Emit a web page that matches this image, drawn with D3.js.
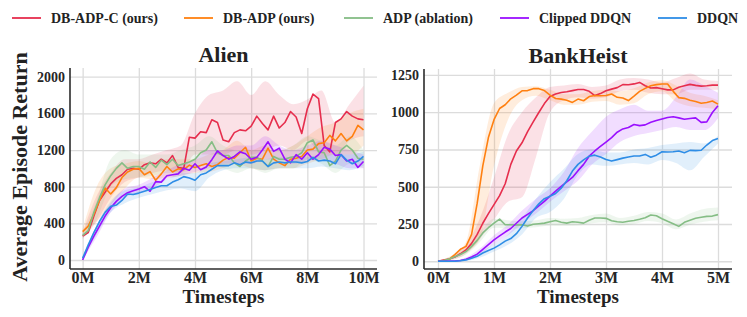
<!DOCTYPE html>
<html>
<head>
<meta charset="utf-8">
<title>Alien / BankHeist returns</title>
<script src="https://cdn.jsdelivr.net/npm/d3@7"></script>
<style>
  body { margin: 0; background: #fff; }
  svg text { font-family: "Liberation Serif", "Times New Roman", serif; font-weight: bold; fill: #222; }
</style>
</head>
<body>
<script>

// legend / series
var labels = ["DB-ADP-C (ours)", "DB-ADP (ours)", "ADP (ablation)", "Clipped DDQN", "DDQN"];
var colors = ["#e62e4d", "#ff8010", "#85bd85", "#9a10ff", "#2e8de6"];
var serif = '"Liberation Serif", "Times New Roman", serif';

// ---- Alien: mean curves, one value every 0.2M steps (0 .. 10M)
var alienStep = 0.2;
var alienRed    = [260, 300, 480, 650, 740, 830, 890, 930, 990, 1000, 990, 1040, 1060, 1050, 1100, 1060, 1140, 1010, 1000, 1340, 1330, 1400, 1390, 1530, 1500, 1310, 1290, 1390, 1420, 1410, 1460, 1570, 1490, 1420, 1570, 1440, 1500, 1620, 1560, 1380, 1650, 1810, 1760, 1250, 1180, 1500, 1540, 1620, 1570, 1540, 1530];
var alienOrange = [310, 370, 500, 650, 785, 720, 790, 900, 960, 990, 1000, 930, 965, 870, 940, 1020, 960, 995, 985, 1035, 1010, 1030, 1050, 1020, 1040, 1090, 1120, 1110, 1170, 1230, 1080, 1110, 1100, 1220, 1100, 1060, 1030, 1100, 1110, 1130, 1200, 1210, 1270, 1280, 1360, 1300, 1380, 1300, 1350, 1470, 1420];
var alienGreen  = [270, 320, 520, 680, 820, 920, 1000, 1060, 1000, 1020, 1020, 990, 1070, 1010, 1090, 1040, 1100, 1030, 1050, 1070, 1100, 1170, 1200, 1290, 1170, 1140, 1140, 1060, 1020, 1080, 1120, 1120, 1080, 1020, 1130, 1100, 1100, 1120, 1130, 1170, 1280, 1310, 1180, 1170, 1030, 1080, 1200, 1250, 1200, 1110, 1100];
var alienPurple = [0, 140, 260, 370, 480, 570, 640, 695, 735, 755, 775, 800, 750, 855, 850, 920, 930, 940, 1000, 980, 1050, 985, 1015, 1095, 1190, 1140, 1100, 1130, 1180, 1160, 1100, 1120, 1200, 1290, 1185, 1220, 1100, 1060, 1150, 1100, 1170, 1100, 1150, 1230, 1210, 1140, 1150, 1080, 1100, 1010, 1075];
var alienBlue   = [20, 165, 300, 420, 520, 585, 600, 650, 720, 715, 730, 750, 770, 790, 810, 810, 850, 875, 910, 895, 870, 930, 950, 990, 1030, 1030, 1030, 1060, 1040, 1070, 1060, 1080, 1080, 1020, 1060, 1070, 1060, 1070, 1070, 1060, 1075, 1120, 1080, 1090, 1080, 1050, 1150, 1090, 1050, 1080, 1130];

// Alien: shaded bands, one value every 0.5M
var alienBandStep = 0.5;
var alienRedLo    = [230, 420, 680, 850, 900, 950, 980, 950, 1150, 1150, 1150, 1200, 1150, 1200, 1250, 1200, 1300, 1150, 1150, 1300, 1350];
var alienRedHi    = [300, 700, 950, 1100, 1100, 1150, 1200, 1250, 1600, 1800, 1850, 1950, 1800, 1950, 1800, 1700, 1750, 1850, 1500, 1700, 1900];
var alienOrangeLo = [280, 420, 600, 780, 900, 880, 900, 920, 950, 960, 1000, 1050, 1000, 980, 1000, 1000, 1050, 1100, 1150, 1150, 1250];
var alienOrangeHi = [340, 800, 1000, 1050, 1080, 1050, 1100, 1100, 1100, 1150, 1200, 1300, 1200, 1250, 1200, 1250, 1350, 1450, 1500, 1600, 1650];
var alienGreenLo  = [250, 450, 800, 880, 900, 920, 950, 950, 1000, 1050, 1000, 950, 1000, 950, 1000, 1000, 1100, 1050, 950, 1050, 1000];
var alienGreenHi  = [300, 650, 1100, 1200, 1150, 1150, 1150, 1200, 1250, 1350, 1250, 1200, 1200, 1200, 1200, 1250, 1350, 1300, 1250, 1350, 1200];
var alienPurpleLo = [0, 250, 520, 680, 730, 780, 880, 920, 960, 1000, 1050, 1050, 1050, 1100, 1100, 1050, 1080, 1100, 1050, 1000, 1000];
var alienPurpleHi = [20, 380, 620, 780, 820, 900, 980, 1050, 1100, 1200, 1200, 1250, 1250, 1350, 1250, 1200, 1250, 1300, 1250, 1200, 1150];
var alienBlueLo   = [0, 280, 520, 620, 680, 720, 760, 780, 750, 900, 980, 1000, 1000, 980, 1000, 1000, 1000, 1020, 1000, 980, 1030];
var alienBlueHi   = [40, 380, 640, 760, 790, 850, 880, 950, 950, 1050, 1080, 1100, 1120, 1100, 1120, 1120, 1120, 1150, 1150, 1150, 1180];

// ---- BankHeist: mean curves, one value every 0.1M steps (0 .. 5M)
var bankStep = 0.1;
var bankRed    = [0, 8, 15, 28, 50, 76, 120, 180, 255, 320, 380, 440, 520, 650, 740, 795, 870, 935, 998, 1058, 1105, 1122, 1132, 1137, 1145, 1152, 1152, 1140, 1112, 1125, 1144, 1155, 1165, 1185, 1184, 1190, 1200, 1178, 1162, 1165, 1158, 1150, 1150, 1167, 1178, 1187, 1180, 1175, 1178, 1182, 1182];
var bankOrange = [0, 5, 13, 45, 80, 100, 180, 390, 640, 830, 950, 1025, 1050, 1090, 1115, 1144, 1145, 1158, 1158, 1145, 1115, 1092, 1088, 1080, 1066, 1088, 1077, 1105, 1112, 1110, 1112, 1122, 1100, 1095, 1078, 1108, 1140, 1160, 1178, 1185, 1189, 1189, 1140, 1098, 1093, 1080, 1072, 1060, 1065, 1075, 1054];
var bankGreen  = [0, 5, 15, 30, 45, 65, 100, 140, 190, 225, 256, 283, 245, 245, 243, 245, 236, 248, 252, 256, 265, 274, 262, 256, 265, 262, 256, 275, 290, 290, 288, 272, 265, 262, 268, 274, 282, 292, 310, 305, 285, 268, 252, 234, 261, 275, 288, 295, 301, 303, 313];
var bankPurple = [0, 0, 1, 2, 5, 13, 28, 48, 80, 112, 144, 170, 196, 220, 255, 290, 315, 340, 372, 402, 437, 470, 502, 532, 562, 608, 650, 705, 740, 770, 800, 830, 866, 888, 897, 918, 910, 915, 932, 945, 955, 965, 970, 962, 953, 958, 962, 932, 935, 998, 1043];
var bankBlue   = [0, 0, 0, 0, 3, 9, 20, 33, 55, 72, 88, 110, 135, 152, 185, 234, 290, 340, 385, 420, 436, 455, 490, 540, 605, 650, 680, 705, 712, 700, 683, 672, 682, 692, 700, 706, 706, 717, 698, 712, 735, 733, 735, 740, 728, 744, 742, 745, 780, 810, 823];

// BankHeist: shaded bands, one value every 0.25M
var bankBandStep = 0.25;
var bankRedLo    = [0, 10, 50, 150, 280, 400, 430, 700, 1000, 1080, 1100, 1090, 1100, 1140, 1150, 1130, 1120, 1120, 1150, 1150, 1150];
var bankRedHi    = [5, 30, 110, 290, 560, 850, 1000, 1100, 1170, 1180, 1190, 1170, 1180, 1220, 1230, 1220, 1200, 1230, 1260, 1220, 1210];
var bankOrangeLo = [0, 15, 60, 150, 640, 950, 1080, 1110, 1080, 1050, 1050, 1070, 1075, 1050, 1060, 1120, 1140, 1070, 1040, 1030, 1020];
var bankOrangeHi = [5, 40, 130, 650, 1060, 1130, 1170, 1175, 1150, 1120, 1120, 1140, 1150, 1140, 1160, 1200, 1215, 1180, 1130, 1110, 1080];
var bankGreenLo  = [0, 10, 45, 130, 225, 220, 222, 228, 240, 238, 240, 255, 262, 240, 250, 270, 255, 215, 245, 265, 275];
var bankGreenHi  = [5, 35, 85, 195, 285, 275, 268, 275, 290, 285, 290, 310, 320, 290, 305, 330, 320, 280, 320, 350, 360];
var bankPurpleLo = [0, 0, 5, 45, 115, 175, 250, 320, 400, 470, 540, 650, 720, 800, 840, 860, 880, 900, 880, 880, 960];
var bankPurpleHi = [2, 5, 25, 85, 175, 245, 340, 420, 490, 600, 760, 870, 970, 1020, 1050, 1010, 1010, 1100, 1220, 1180, 1130];
var bankBlueLo   = [0, 0, 2, 25, 65, 110, 180, 290, 330, 420, 580, 650, 640, 650, 660, 650, 680, 660, 610, 700, 790];
var bankBlueHi   = [2, 3, 18, 65, 115, 180, 290, 420, 530, 620, 720, 750, 730, 730, 750, 760, 780, 790, 800, 790, 840];

// ticks
var alienXTicks = [0, 2, 4, 6, 8, 10];
var alienYTicks = [0, 400, 800, 1200, 1600, 2000];
var bankXTicks = [0, 1, 2, 3, 4, 5];
var bankYTicks = [0, 250, 500, 750, 1000, 1250];

var panels = [
  { title: "Alien", step: alienStep, bandStep: alienBandStep,
    means: [alienRed, alienOrange, alienGreen, alienPurple, alienBlue],
    lows:  [alienRedLo, alienOrangeLo, alienGreenLo, alienPurpleLo, alienBlueLo],
    highs: [alienRedHi, alienOrangeHi, alienGreenHi, alienPurpleHi, alienBlueHi],
    xTicks: alienXTicks, yTicks: alienYTicks,
    xDomain: [-0.45, 10.48], yDomain: [-98, 2095],
    left: 70, right: 377, top: 68, bottom: 269 },
  { title: "BankHeist", step: bankStep, bandStep: bankBandStep,
    means: [bankRed, bankOrange, bankGreen, bankPurple, bankBlue],
    lows:  [bankRedLo, bankOrangeLo, bankGreenLo, bankPurpleLo, bankBlueLo],
    highs: [bankRedHi, bankOrangeHi, bankGreenHi, bankPurpleHi, bankBlueHi],
    xTicks: bankXTicks, yTicks: bankYTicks,
    xDomain: [-0.25, 5.25], yDomain: [-52, 1290],
    left: 424, right: 732, top: 69, bottom: 269 }
];

var svg = d3.select("body").append("svg")
    .attr("width", 747)
    .attr("height", 317);

panels.forEach(function(p, pi) {
  var w = p.right - p.left,
      h = p.bottom - p.top;
  var x = d3.scaleLinear().domain(p.xDomain).range([0, w]);
  var y = d3.scaleLinear().domain(p.yDomain).range([h, 0]);

  var g = svg.append("g")
      .attr("transform", "translate(" + p.left + "," + p.top + ")");

  // grid
  g.append("g")
      .call(d3.axisLeft(y).tickValues(p.yTicks).tickSize(-w).tickFormat(""))
      .call(function(s) { s.select(".domain").remove(); })
      .selectAll("line").attr("stroke", "#dcdcdc").attr("stroke-width", 1.3);
  g.append("g")
      .attr("transform", "translate(0," + h + ")")
      .call(d3.axisBottom(x).tickValues(p.xTicks).tickSize(-h).tickFormat(""))
      .call(function(s) { s.select(".domain").remove(); })
      .selectAll("line").attr("stroke", "#dcdcdc").attr("stroke-width", 1.3);

  // bands
  p.lows.forEach(function(lo, i) {
    var hi = p.highs[i];
    var area = d3.area()
        .x(function(d, j) { return x(j * p.bandStep); })
        .y0(function(d) { return y(d); })
        .y1(function(d, j) { return y(hi[j]); })
        .curve(d3.curveMonotoneX);
    g.append("path")
        .datum(lo)
        .attr("d", area)
        .attr("fill", colors[i])
        .attr("fill-opacity", 0.14);
  });

  // mean lines
  p.means.forEach(function(vals, i) {
    var line = d3.line()
        .x(function(d, j) { return x(j * p.step); })
        .y(function(d) { return y(d); });
    g.append("path")
        .datum(vals)
        .attr("d", line)
        .attr("fill", "none")
        .attr("stroke", colors[i])
        .attr("stroke-width", 1.6)
        .attr("stroke-linejoin", "round");
  });

  // y tick labels
  var ya = g.append("g")
      .call(d3.axisLeft(y).tickValues(p.yTicks).tickSize(0).tickPadding(5)
              .tickFormat(d3.format("d")));
  ya.select(".domain").remove();
  ya.selectAll("text")
      .style("font-family", serif).style("font-weight", "bold")
      .style("font-size", "14px").style("fill", "#262626");

  // x tick labels
  var xa = g.append("g")
      .attr("transform", "translate(0," + h + ")")
      .call(d3.axisBottom(x).tickValues(p.xTicks).tickSize(0).tickPadding(3)
              .tickFormat(function(d) { return d + "M"; }));
  xa.select(".domain").remove();
  xa.selectAll("text")
      .style("font-family", serif).style("font-weight", "bold")
      .style("font-size", "16px").style("fill", "#262626");

  // spines
  g.append("line").attr("x1", 0).attr("x2", 0).attr("y1", 0).attr("y2", h)
      .attr("stroke", "#2b2b2b").attr("stroke-width", 1.6);
  g.append("line").attr("x1", 0).attr("x2", w).attr("y1", h).attr("y2", h)
      .attr("stroke", "#2b2b2b").attr("stroke-width", 1.6);

  // title
  g.append("text")
      .attr("x", w / 2)
      .attr("y", -6)
      .attr("text-anchor", "middle")
      .style("font-size", "22px")
      .text(p.title);

  // x label
  g.append("text")
      .attr("x", w / 2)
      .attr("y", h + 34)
      .attr("text-anchor", "middle")
      .style("font-size", "19px")
      .text("Timesteps");

  if (pi == 0) {
    svg.append("text")
        .attr("transform", "translate(27,167) rotate(-90)")
        .attr("text-anchor", "middle")
        .style("font-size", "22px")
        .text("Average Episode Return");
  }
});

// legend across the top
var legendX = [12, 184, 344, 500, 658];
var legend = svg.append("g").attr("transform", "translate(0,18)");
labels.forEach(function(name, i) {
  legend.append("line")
      .attr("x1", legendX[i]).attr("x2", legendX[i] + 29)
      .attr("y1", 0).attr("y2", 0)
      .attr("stroke", colors[i]).attr("stroke-width", 1.8);
  legend.append("text")
      .attr("x", legendX[i] + 39)
      .attr("y", 5)
      .style("font-size", "14px")
      .text(name);
});

</script>
</body>
</html>
